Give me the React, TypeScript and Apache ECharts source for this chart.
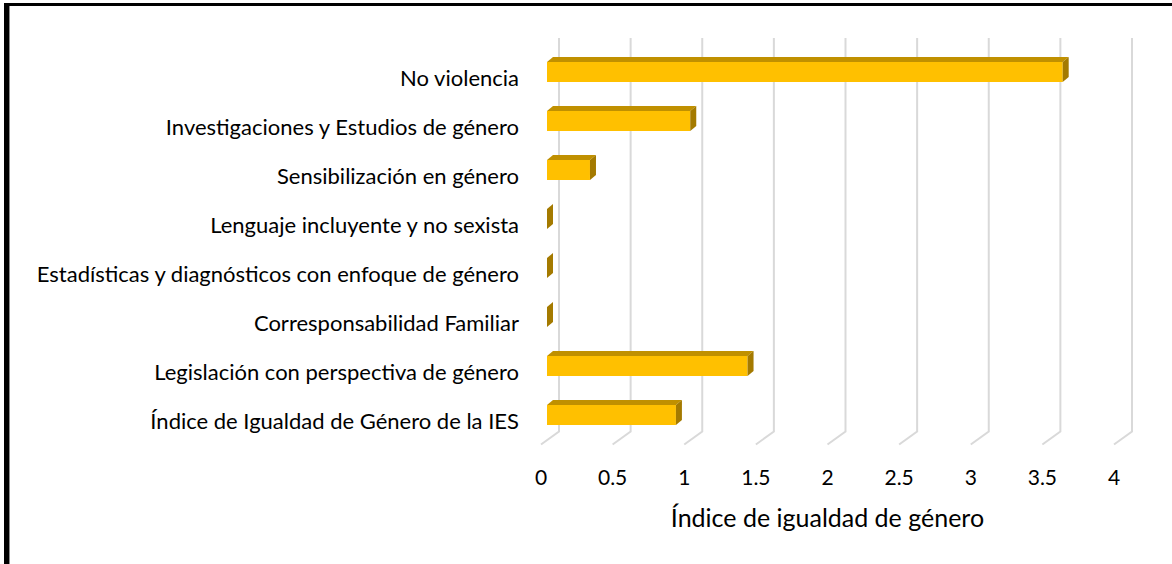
import React, { useEffect, useRef } from "react";
import * as echarts from "echarts";

// Categories, top to bottom
const categories = [
  "No violencia",
  "Investigaciones y Estudios de género",
  "Sensibilización en género",
  "Lenguaje incluyente y no sexista",
  "Estadísticas y diagnósticos con enfoque de género",
  "Corresponsabilidad Familiar",
  "Legislación con perspectiva de género",
  "Índice de Igualdad de Género de la IES",
];

// Index value for each category
const values = [3.6, 1.0, 0.3, 0, 0, 0, 1.4, 0.9];

// Value-axis ticks
const tickValues = [0, 0.5, 1, 1.5, 2, 2.5, 3, 3.5, 4];

const axisTitle = "Índice de igualdad de género";

const FONT = "Lato, 'Open Sans', sans-serif";

// Perspective offsets: back wall relative to the front plane, and bar depth
const WALL_DX = 18;
const WALL_DY = -13;
const BAR_DX = 6;
const BAR_DY = -5;
const BAR_DEPTH_X = 6;
const BAR_DEPTH_Y = -5;
const BAR_H = 20;

export default function App() {
  const ref = useRef<HTMLDivElement>(null);

  useEffect(() => {
    if (!ref.current) return;
    const chart = echarts.init(ref.current, null, { renderer: "svg" });

    const option: any = {
      animation: false,
      backgroundColor: "#ffffff",
      grid: { left: 541, width: 573, top: 52.5, height: 392 },
      xAxis: {
        type: "value",
        min: 0,
        max: 4,
        interval: 0.5,
        axisLine: { show: false },
        axisTick: { show: false },
        splitLine: { show: false },
        axisLabel: {
          margin: 21,
          color: "#000",
          fontFamily: FONT,
          fontSize: 21,
          formatter: (v: number) => String(v),
        },
        name: axisTitle,
        nameLocation: "middle",
        nameGap: 60,
        nameTextStyle: { color: "#000", fontFamily: FONT, fontSize: 25 },
      },
      yAxis: {
        type: "category",
        data: categories,
        inverse: true,
        axisLine: { show: false },
        axisTick: { show: false },
        splitLine: { show: false },
        axisLabel: {
          margin: 22,
          color: "#000",
          fontFamily: FONT,
          fontSize: 22,
        },
      },
      graphic: [
        {
          type: "rect",
          shape: { x: 4, y: 3, width: 1168, height: 3 },
          style: { fill: "#000" },
          silent: true,
        },
        {
          type: "rect",
          shape: { x: 4, y: 3, width: 5, height: 561 },
          style: { fill: "#000" },
          silent: true,
        },
        {
          type: "rect",
          shape: { x: 9, y: 6, width: 1, height: 558 },
          style: { fill: "#8c8c8c" },
          silent: true,
        },
      ],
      series: [
        {
          // back-wall gridlines with their floor returns
          type: "custom",
          silent: true,
          z: 1,
          data: tickValues.map((t) => [t, 0]),
          renderItem: (params: any, api: any) => {
            const cs = params.coordSys;
            const x = api.coord([api.value(0), 0])[0];
            const top = cs.y + WALL_DY - 1.5;
            const floorFront = cs.y + cs.height;
            return {
              type: "polyline",
              shape: {
                points: [
                  [x + WALL_DX, top],
                  [x + WALL_DX, floorFront + WALL_DY],
                  [x, floorFront],
                ],
              },
              style: { stroke: "#D9D9D9", lineWidth: 2, fill: "none" },
            };
          },
        },
        {
          // 3-D style bars
          type: "custom",
          z: 2,
          data: values.map((v, i) => [v, i]),
          encode: { x: 0, y: 1 },
          renderItem: (params: any, api: any) => {
            const v = api.value(0);
            const c = api.value(1);
            const p0 = api.coord([0, c]);
            const p1 = api.coord([v, c]);
            const x0 = p0[0] + BAR_DX;
            const x1 = p1[0] + BAR_DX;
            const yT = p0[1] + BAR_DY - BAR_H / 2;
            const yB = yT + BAR_H;
            const children: any[] = [];
            if (x1 - x0 > 0.5) {
              children.push({
                type: "polygon",
                shape: {
                  points: [
                    [x0, yT],
                    [x0 + BAR_DEPTH_X, yT + BAR_DEPTH_Y],
                    [x1 + BAR_DEPTH_X, yT + BAR_DEPTH_Y],
                    [x1, yT],
                  ],
                },
                style: { fill: "#C09000" },
              });
              children.push({
                type: "rect",
                shape: { x: x0, y: yT, width: x1 - x0, height: BAR_H },
                style: { fill: "#FFC000" },
              });
            }
            children.push({
              type: "polygon",
              shape: {
                points: [
                  [x1, yT],
                  [x1 + BAR_DEPTH_X, yT + BAR_DEPTH_Y],
                  [x1 + BAR_DEPTH_X, yB + BAR_DEPTH_Y],
                  [x1, yB],
                ],
              },
              style: { fill: "#A47A00" },
            });
            return { type: "group", children };
          },
        },
      ],
    };

    chart.setOption(option);
    return () => chart.dispose();
  }, []);

  return (
    <div
      ref={ref}
      style={{ position: "fixed", left: 0, top: 0, width: 1172, height: 564 }}
    />
  );
}
